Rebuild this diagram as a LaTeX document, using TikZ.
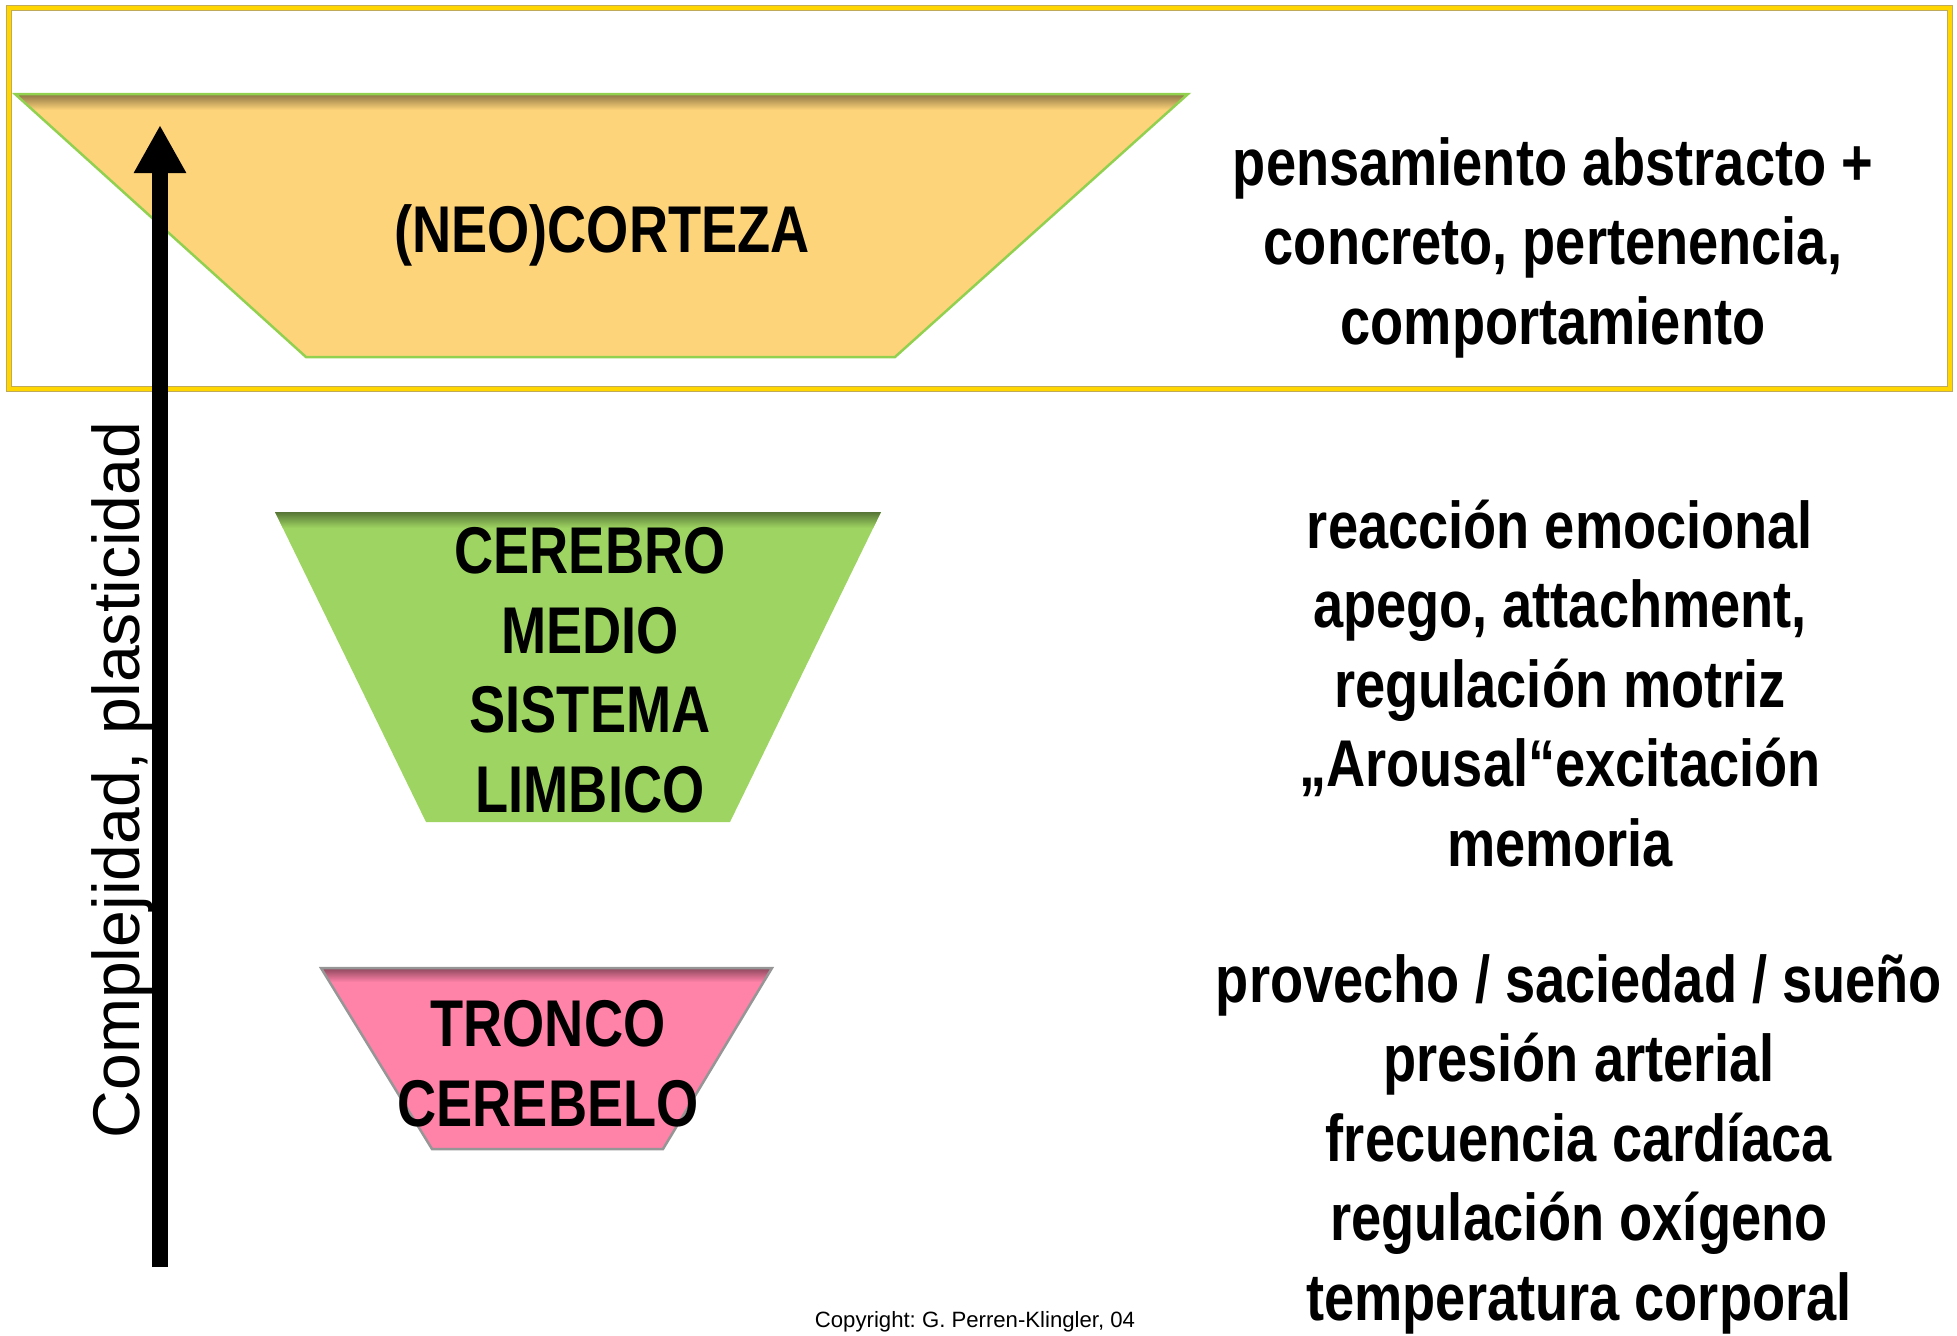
\documentclass[tikz,border=0pt]{standalone}
\usepackage{fontspec}
\setmainfont{Liberation Sans}
\newfontfamily\narrowfont[FakeStretch=0.82]{Liberation Sans}
\usepackage{xcolor}
\usetikzlibrary{arrows.meta}
\frenchspacing

\definecolor{cortexfill}{RGB}{254,212,122}
\definecolor{cortexline}{RGB}{146,208,80}
\definecolor{limbicfill}{RGB}{158,213,98}
\definecolor{stemfill}{RGB}{255,130,169}
\definecolor{stemline}{RGB}{150,150,150}
\definecolor{framegold}{RGB}{255,214,0}
\definecolor{frameolive}{RGB}{190,170,90}

\tikzset{
  layertext/.style={font=\narrowfont\bfseries\fontsize{18.8}{22.6}\selectfont,
    align=center, anchor=base, inner sep=0pt},
  axistext/.style={font=\fontsize{18.8}{22.6}\selectfont, anchor=base,
    rotate=90, inner sep=0pt},
  notetext/.style={font=\fontsize{6.3}{7.5}\selectfont, anchor=base, inner sep=0pt},
  axisarrow/.style={line width=1.6mm, -{Triangle[length=4.8mm, width=4.9mm]}},
}

\begin{document}
\begin{tikzpicture}[x=0.01cm, y=-0.01cm]
\useasboundingbox (0,0) rectangle (1957,1336);

% marco superior
\draw[draw=frameolive, line width=0.12mm, double=framegold, double distance=0.35mm]
  (9,8) rectangle (1950,389);

% capas del cerebro
\begin{scope}
\clip (15,94) -- (1188,94) -- (895,357) -- (306,357) -- cycle;
\fill[cortexfill] (0,80) rectangle (1200,370);
\shade[top color=cortexfill!55!black, bottom color=cortexfill] (0,94) rectangle (1200,110);
\end{scope}
\draw[cortexline, line width=0.25mm] (15,94) -- (1188,94) -- (895,357) -- (306,357) -- cycle;

\begin{scope}
\clip (275,512) -- (881,512) -- (730,822) -- (426,822) -- cycle;
\fill[limbicfill] (260,500) rectangle (900,830);
\shade[top color=limbicfill!55!black, bottom color=limbicfill] (260,512) rectangle (900,528);
\end{scope}

\begin{scope}
\clip (321,968) -- (772,968) -- (663,1149) -- (432,1149) -- cycle;
\fill[stemfill] (300,960) rectangle (800,1160);
\shade[top color=stemfill!55!black, bottom color=stemfill] (300,968) rectangle (800,982);
\end{scope}
\draw[stemline, line width=0.25mm] (321,968) -- (772,968) -- (663,1149) -- (432,1149) -- cycle;

% eje
\coordinate (axisfoot) at (160,1267);
\coordinate (axishead) at (160,125);
\draw[axisarrow] (axisfoot) -- (axishead);
\node[axistext] (axislabel) at (139,780) {Complejidad, plasticidad};

% nombres
\node[layertext] (cortex) at (602,252) {(NEO)CORTEZA};
\node[layertext] (limbic) at (590,812) {CEREBRO\\MEDIO\\SISTEMA\\LIMBICO};
\node[layertext] (stem) at (548,1126) {TRONCO\\CEREBELO};

% funciones
\node[layertext] (cortexfunc) at (1553,344)
  {pensamiento abstracto +\\concreto, pertenencia,\\comportamiento};
\node[layertext] (limbicfunc) at (1560,866)
  {reacción emocional\\apego, attachment,\\regulación motriz\\„Arousal“excitación\\memoria};
\node[layertext] (stemfunc) at (1579,1320)
  {provecho / saciedad / sueño\\presión arterial\\frecuencia cardíaca\\regulación oxígeno\\temperatura corporal};

\node[notetext] (copyright) at (975,1327) {Copyright: G. Perren-Klingler, 04};
\end{tikzpicture}
\end{document}
